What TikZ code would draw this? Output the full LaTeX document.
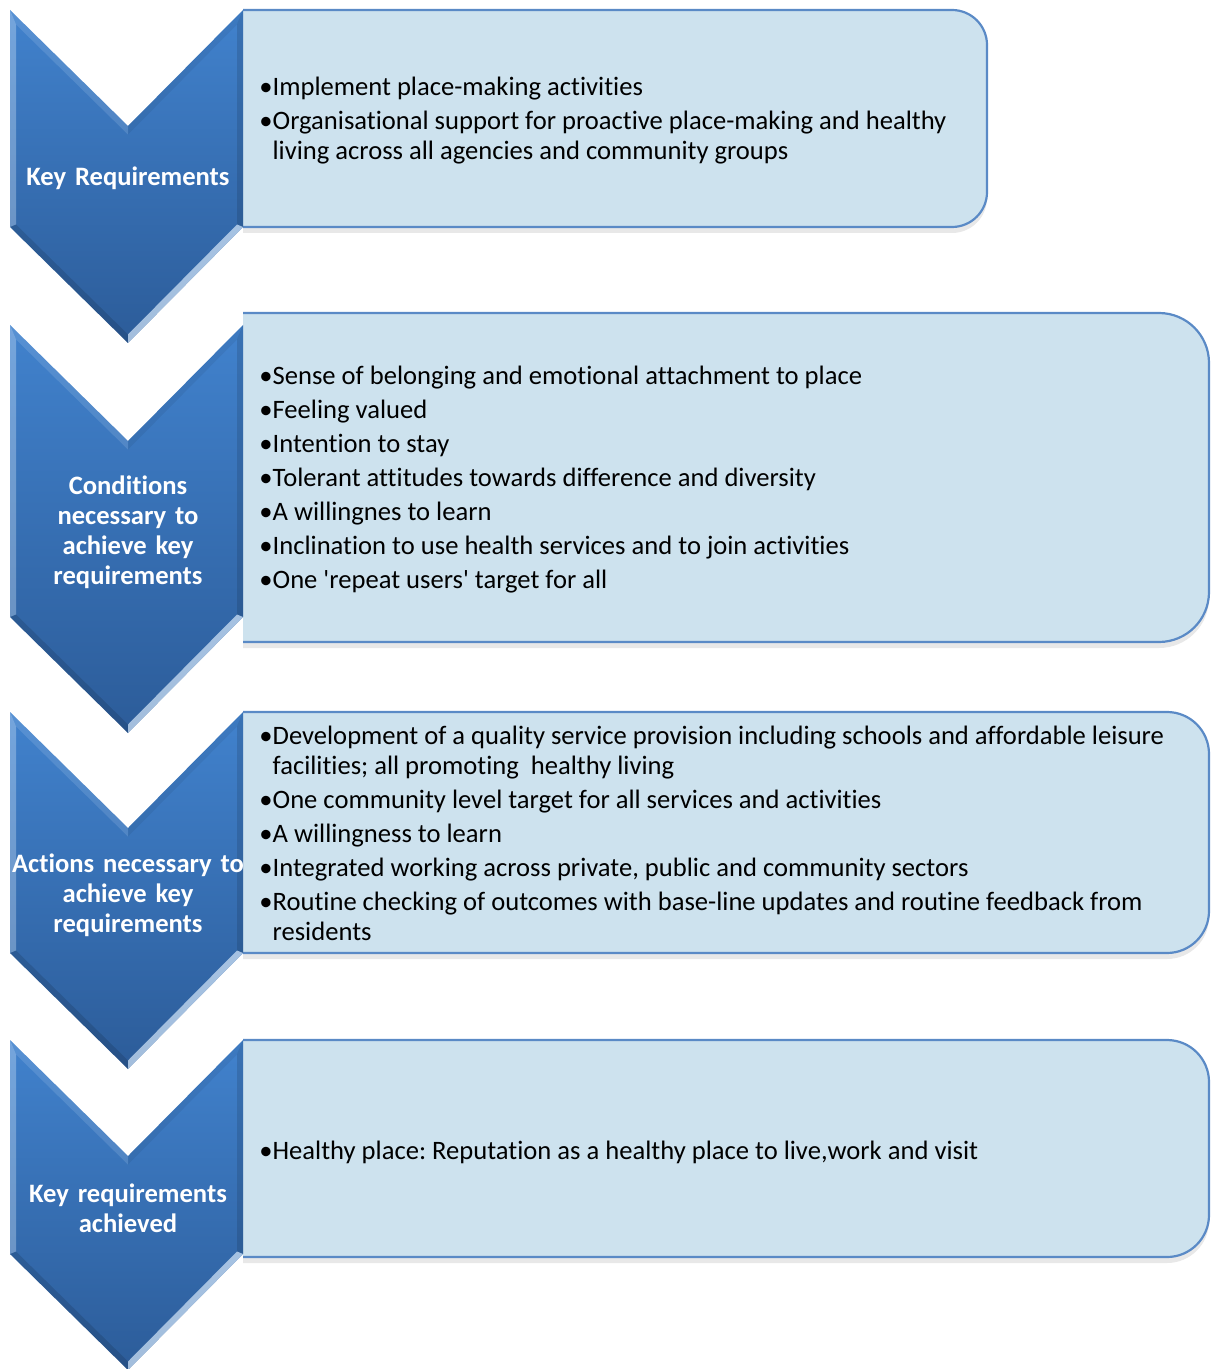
\documentclass[tikz,border=0pt]{standalone}
\usepackage{fontspec}
\setmainfont{Carlito}[Ligatures=NoCommon]
\usetikzlibrary{shadows}

\definecolor{chevtop}{HTML}{4182CD}
\definecolor{chevbot}{HTML}{2C5C99}
\definecolor{boxfill}{HTML}{CDE2EE}
\definecolor{boxline}{HTML}{5A8AC6}
\definecolor{bevel}{HTML}{D6E8FA}

\tikzset{
    infobox/.style={fill=boxfill, draw=boxline, line width=1.1pt,
        drop shadow={opacity=0.18, shadow xshift=0pt, shadow yshift=-3pt}},
    boxtext/.style={anchor=north west, inner sep=0pt, align=left,
        font=\fontsize{13.3}{15}\selectfont},
    chevtext/.style={anchor=north, inner sep=0pt, align=center, text=white,
        text width=126pt, font=\bfseries\fontsize{13.3}{15}\selectfont}
}

% bullet hang for wrapped lines
\newcommand{\hang}{\phantom{\textbullet}}

% chevron: #1 = top edge, #2 = bottom of the sides
\newcommand{\chev}[2]{%
    \shade[top color=chevtop, bottom color=chevbot] (10,#1) -- (128,{#1+116}) -- (243,#1)
        -- (243,#2) -- (128,{#2+116}) -- (10,#2) -- cycle;
    % bevel edges
    \fill[bevel, opacity=0.35] (10,#1) -- (10,#2) -- (16,{#2-2.5}) -- (16,{#1+14.5}) -- cycle;
    \fill[bevel, opacity=0.15] (10,#1) -- (128,{#1+116}) -- (128,{#1+124.5}) -- (16,{#1+14.5}) -- cycle;
    \fill[black, opacity=0.06] (128,{#1+116}) -- (243,#1) -- (237,{#1+14.5}) -- (128,{#1+124.5}) -- cycle;
    \fill[black, opacity=0.12] (243,#1) -- (243,#2) -- (237,{#2-2.5}) -- (237,{#1+14.5}) -- cycle;
    \fill[black, opacity=0.12] (10,#2) -- (128,{#2+116}) -- (128,{#2+107.5}) -- (16,{#2-2.5}) -- cycle;
    \fill[bevel, opacity=0.7] (243,#2) -- (128,{#2+116}) -- (128,{#2+107.5}) -- (237,{#2-2.5}) -- cycle;
}

\begin{document}
\frenchspacing
\begin{tikzpicture}[x=0.5pt, y=-0.5pt]
    \useasboundingbox (0,0) rectangle (1211,1369);

    % Boxes
    \draw[infobox, rounded corners=17.5pt] (243,10) -- (987,10) -- (987,227) -- (243,227);
    \draw[infobox, rounded corners=25pt] (243,313) -- (1209,313) -- (1209,642) -- (243,642);
    \draw[infobox, rounded corners=21pt] (243,712) -- (1209,712) -- (1209,953) -- (243,953);
    \draw[infobox, rounded corners=21pt] (243,1040) -- (1209,1040) -- (1209,1257) -- (243,1257);

    % Chevrons
    \chev{10}{227}
    \chev{325}{617}
    \chev{712}{953}
    \chev{1040}{1254}

    % Chevron labels
    \node[chevtext] (kreq) at (128,164) {\strut Key Requirements};
    \node[chevtext] (cond) at (128,473) {\strut Conditions\\ necessary to\\ achieve key\\ requirements};
    \node[chevtext] (act) at (128,851) {\strut Actions necessary to\\ achieve key\\ requirements};
    \node[chevtext] (done) at (128,1181) {\strut Key requirements\\ achieved};

    % Box texts
    \node[boxtext] (kreqtext) at (259,74) {\strut\textbullet Implement place-making activities\\[2pt]
        \textbullet Organisational support for proactive place-making and healthy\\
        \hang living across all agencies and community groups};

    \node[boxtext] (condtext) at (259,363) {\strut\textbullet Sense of belonging and emotional attachment to place\\[2pt]
        \textbullet Feeling valued\\[2pt]
        \textbullet Intention to stay\\[2pt]
        \textbullet Tolerant attitudes towards difference and diversity\\[2pt]
        \textbullet A willingnes to learn\\[2pt]
        \textbullet Inclination to use health services and to join activities\\[2pt]
        \textbullet One \textquotesingle repeat users\textquotesingle{} target for all};

    \node[boxtext] (acttext) at (259,723) {\strut\textbullet Development of a quality service provision including schools and affordable leisure\\
        \hang facilities; all promoting~ healthy living\\[2pt]
        \textbullet One community level target for all services and activities\\[2pt]
        \textbullet A willingness to learn\\[2pt]
        \textbullet Integrated working across private, public and community sectors\\[2pt]
        \textbullet Routine checking of outcomes with base-line updates and routine feedback from\\
        \hang residents};

    \node[boxtext] (donetext) at (259,1138) {\strut\textbullet Healthy place: Reputation as a healthy place to live,work and visit};
\end{tikzpicture}
\end{document}
